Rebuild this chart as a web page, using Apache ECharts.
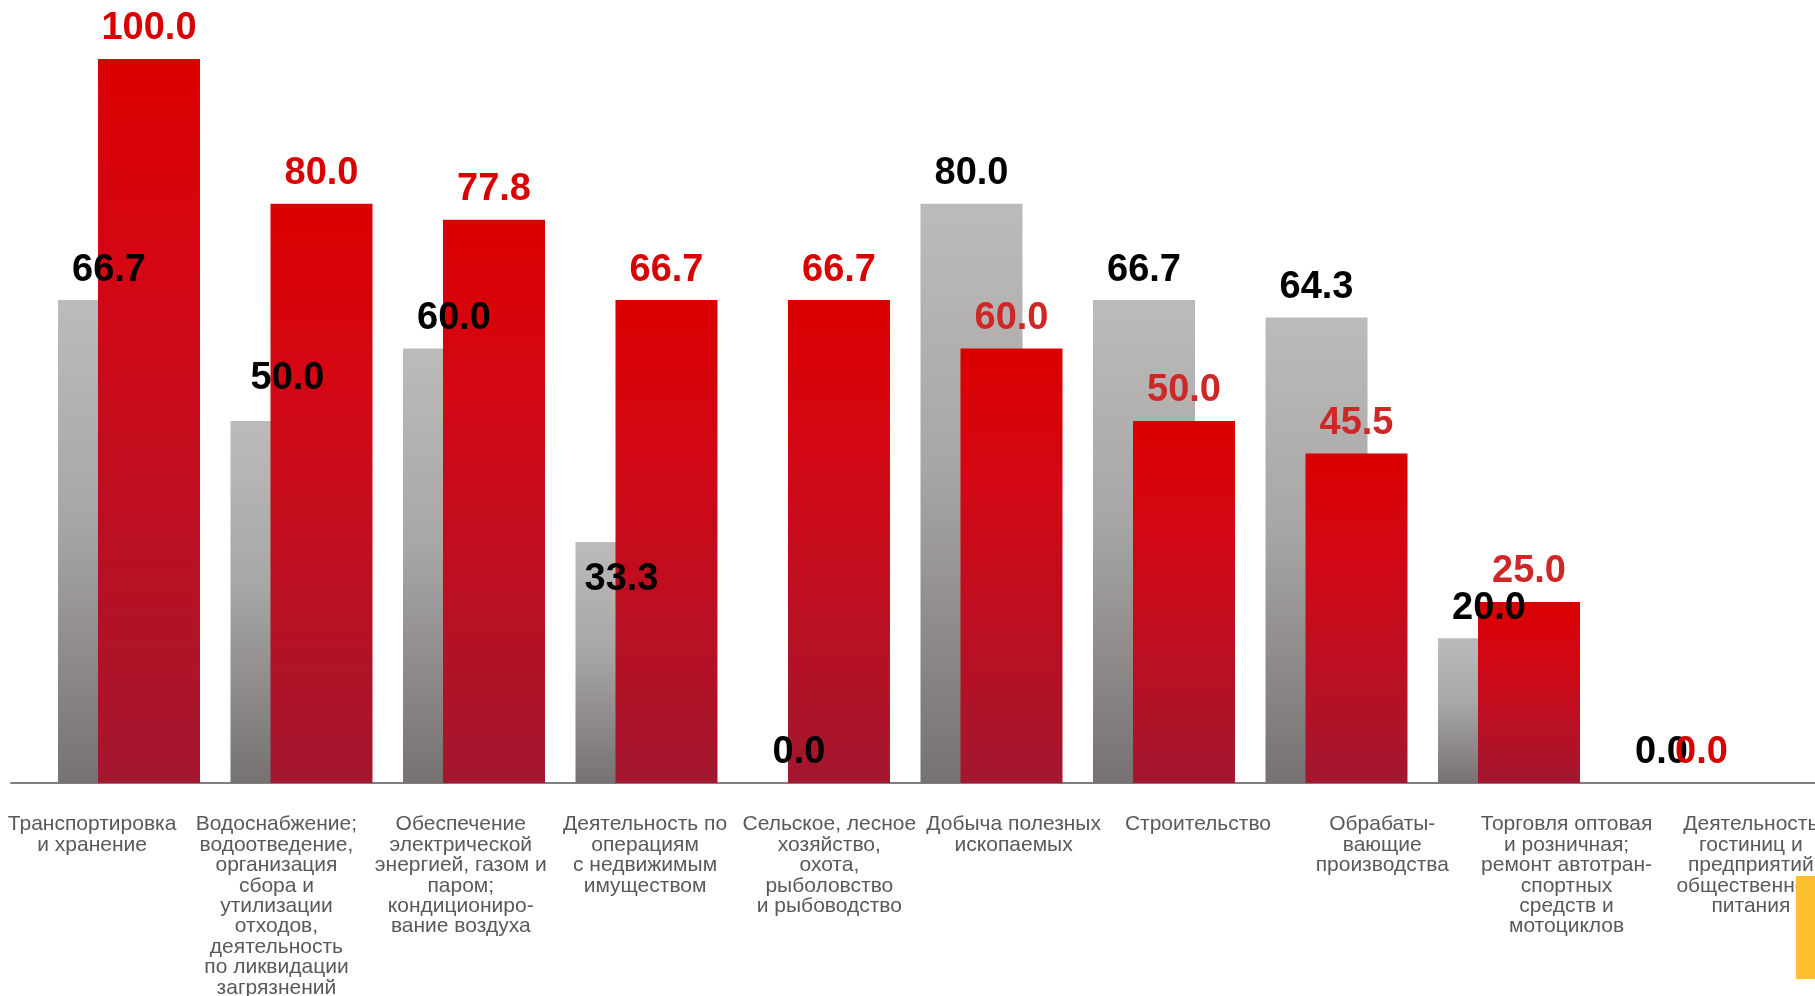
<!DOCTYPE html>
<html>
<head>
<meta charset="utf-8">
<script src="https://cdn.jsdelivr.net/npm/echarts@6/dist/echarts.min.js"></script>
<style>
html,body{margin:0;padding:0;background:#fff;}
#chart{width:1815px;height:996px;}
</style>
</head>
<body>
<div id="chart"></div>
<script>
const categories = [
  "Транспортировка\nи хранение",
  "Водоснабжение;\nводоотведение,\nорганизация\nсбора и\nутилизации\nотходов,\nдеятельность\nпо ликвидации\nзагрязнений",
  "Обеспечение\nэлектрической\nэнергией, газом и\nпаром;\nкондициониро-\nвание воздуха",
  "Деятельность по\nоперациям\nс недвижимым\nимуществом",
  "Сельское, лесное\nхозяйство,\nохота,\nрыболовство\nи рыбоводство",
  "Добыча полезных\nископаемых",
  "Строительство",
  "Обрабаты-\nвающие\nпроизводства",
  "Торговля оптовая\nи розничная;\nремонт автотран-\nспортных\nсредств и\nмотоциклов",
  "Деятельность\nгостиниц и\nпредприятий\nобщественного\nпитания"
];
const greyValues = [66.7, 50.0, 60.0, 33.3, 0.0, 80.0, 66.7, 64.3, 20.0, 0.0];
const redValues  = [100.0, 80.0, 77.8, 66.7, 66.7, 60.0, 50.0, 45.5, 25.0, 0.0];

// label styling / placement tweaks (kept apart from the data)
const softRedLabelIdx = [5, 6, 7, 8];
const greyLabelOffsets = { 1: [6, -12], 3: [-5, 68] };

const chart = echarts.init(document.getElementById('chart'));
const FONT = '"Liberation Sans", Arial, sans-serif';

const option = {
  animation: false,
  backgroundColor: '#ffffff',
  grid: [
    { left: 42.75, width: 1725, top: 59, bottom: 213, outerBoundsMode: 'none', containLabel: false },
    { left: 0, width: 1843, top: 59, bottom: 213, outerBoundsMode: 'none', containLabel: false },
    { left: 11, right: 0, top: 59, bottom: 213, outerBoundsMode: 'none', containLabel: false }
  ],
  xAxis: [
    { type: 'category', gridIndex: 0, data: categories,
      axisLine: { show: false }, axisTick: { show: false }, axisLabel: { show: false } },
    { type: 'category', gridIndex: 1, data: categories,
      axisLine: { show: false }, axisTick: { show: false },
      axisLabel: { interval: 0, margin: 31.5, fontFamily: FONT, fontSize: 21, lineHeight: 20.4,
                   color: '#595959', align: 'center', hideOverlap: false } },
    { type: 'category', gridIndex: 2, data: categories,
      axisLine: { show: true, lineStyle: { color: '#7f7f7f', width: 2 } },
      axisTick: { show: false }, axisLabel: { show: false } }
  ],
  yAxis: [
    { type: 'value', gridIndex: 0, min: 0, max: 100, show: false, splitLine: { show: false } },
    { type: 'value', gridIndex: 1, show: false, splitLine: { show: false } },
    { type: 'value', gridIndex: 2, show: false, splitLine: { show: false } }
  ],
  series: [
    {
      type: 'bar', xAxisIndex: 0, yAxisIndex: 0,
      barWidth: 102, barGap: '-60.8%',
      itemStyle: {
        color: new echarts.graphic.LinearGradient(0, 0, 0, 1, [
          { offset: 0, color: '#bcbbba' },
          { offset: 0.45, color: '#a9a7a6' },
          { offset: 1, color: '#757271' }
        ])
      },
      label: {
        show: true, position: 'top', distance: 11,
        fontFamily: FONT, fontSize: 38, fontWeight: 'bold', color: '#000000',
        formatter: p => p.value.toFixed(1)
      },
      emphasis: { disabled: true }
    },
    {
      type: 'bar', xAxisIndex: 0, yAxisIndex: 0,
      barWidth: 102, barGap: '-60.8%',
      itemStyle: {
        color: new echarts.graphic.LinearGradient(0, 0, 0, 1, [
          { offset: 0, color: '#da0000' },
          { offset: 0.3, color: '#d40714' },
          { offset: 1, color: '#a3172f' }
        ])
      },
      label: {
        show: true, position: 'top', distance: 11,
        fontFamily: FONT, fontSize: 38, fontWeight: 'bold',
        color: '#d90000',
        formatter: p => p.value.toFixed(1)
      },
      emphasis: { disabled: true }
    }
  ],
  graphic: [
    { type: 'rect', right: 0, bottom: 17, z: 100, zlevel: 0, shape: { width: 19, height: 103 },
      style: { fill: '#fcc02e' }, silent: true }
  ]
};

option.series[0].data = greyValues.map((v, i) =>
  greyLabelOffsets[i] ? { value: v, label: { offset: greyLabelOffsets[i] } } : v
);
option.series[1].data = redValues.map((v, i) =>
  softRedLabelIdx.includes(i) ? { value: v, label: { color: '#cf2626' } } : v
);

chart.setOption(option);
</script>
</body>
</html>
